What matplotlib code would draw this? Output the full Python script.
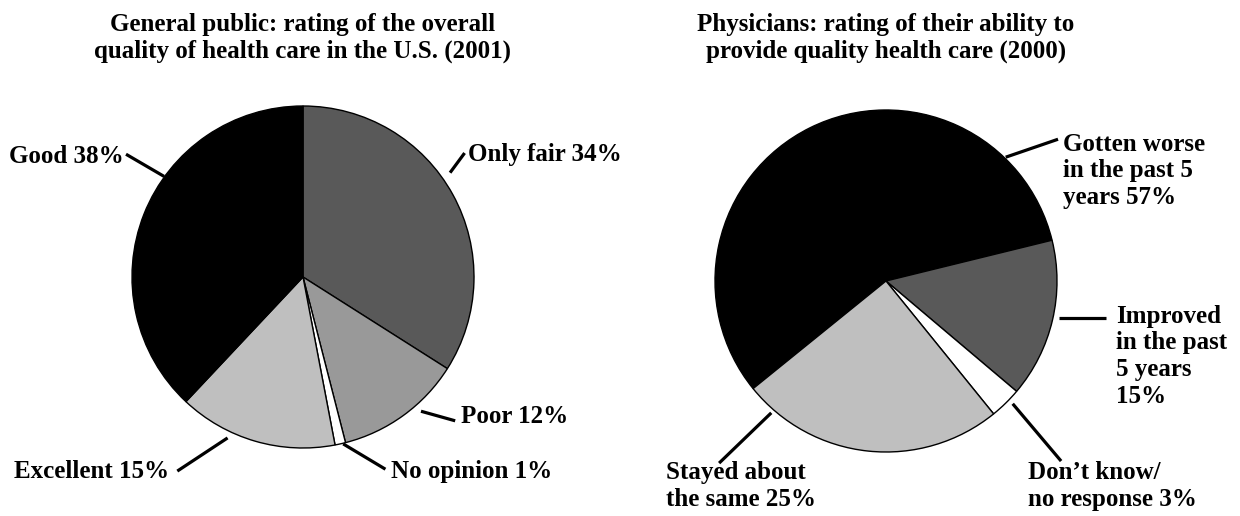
import matplotlib
matplotlib.use('Agg')
import matplotlib.pyplot as plt

plt.rcParams['font.family'] = ['Liberation Serif', 'DejaVu Serif']
plt.rcParams['font.weight'] = 'bold'

# data
public_labels = ['Only fair 34%', 'Poor 12%', 'No opinion 1%', 'Excellent 15%', 'Good 38%']
public_values = [34, 12, 1, 15, 38]
public_colors = ['#595959', '#999999', '#ffffff', '#bfbfbf', '#000000']

doc_labels = ['Gotten worse\nin the past 5\nyears 57%', 'Improved\nin the past\n5 years\n15%',
              'Don\u2019t know/\nno response 3%', 'Stayed about\nthe same 25%']
doc_values = [57, 15, 3, 25]
doc_colors = ['#000000', '#595959', '#ffffff', '#bfbfbf']

title_left = 'General public: rating of the overall\nquality of health care in the U.S. (2001)'
title_right = 'Physicians: rating of their ability to\nprovide quality health care (2000)'

W, H = 1240, 516
fig = plt.figure(figsize=(W / 100, H / 100), dpi=100)


def pie_axes(cx, cy, r):
    # pixel centre/radius -> figure axes
    return fig.add_axes([(cx - r) / W, (H - cy - r) / H, 2 * r / W, 2 * r / H])


# label layout: (text x, text y, ha, leader inner, leader outer) in pie radius units
left_layout = [
    (0.965, 0.718, 'left', (0.860, 0.610), (0.945, 0.725)),
    (0.924, -0.818, 'left', (0.690, -0.785), (0.890, -0.841)),
    (0.512, -1.135, 'left', (0.235, -0.976), (0.482, -1.124)),
    (-0.782, -1.135, 'right', (-0.441, -0.941), (-0.735, -1.135)),
    (-1.047, 0.706, 'right', (-0.812, 0.588), (-1.035, 0.718)),
]
right_layout = [
    (1.035, 0.645, 'left', (0.700, 0.724), (1.006, 0.829)),
    (1.347, -0.440, 'left', (1.012, -0.218), (1.288, -0.218)),
    (0.829, -1.200, 'left', (0.741, -0.718), (1.024, -1.053)),
    (-1.288, -1.200, 'left', (-0.671, -0.771), (-0.976, -1.065)),
]


def draw_pie(ax, values, colors, labels, layout, start):
    ax.pie(values, colors=colors, startangle=start, counterclock=False, radius=1,
           wedgeprops=dict(edgecolor='black', linewidth=1.0))
    ax.set_xlim(-1, 1)
    ax.set_ylim(-1, 1)
    ax.set_aspect('equal')
    ax.axis('off')
    for lab, (tx, ty, ha, p0, p1) in zip(labels, layout):
        ax.plot([p0[0], p1[0]], [p0[1], p1[1]], color='black', lw=2.3,
                solid_capstyle='butt', clip_on=False)
        ax.text(tx, ty, lab, ha=ha, va='center', fontsize=18, fontweight='bold',
                linespacing=1.2, clip_on=False)


ax1 = pie_axes(303, 277, 171)
draw_pie(ax1, public_values, public_colors, public_labels, left_layout, 90)

ax2 = pie_axes(886, 281, 171)
draw_pie(ax2, doc_values, doc_colors, doc_labels, right_layout, 219)

fig.text(303 / W, 1 - 13 / H, title_left, ha='center', va='top', fontsize=18,
         fontweight='bold', linespacing=1.2)
fig.text(886 / W, 1 - 13 / H, title_right, ha='center', va='top', fontsize=18,
         fontweight='bold', linespacing=1.2)

plt.savefig('out.png', dpi=100, facecolor='white')
plt.close()
